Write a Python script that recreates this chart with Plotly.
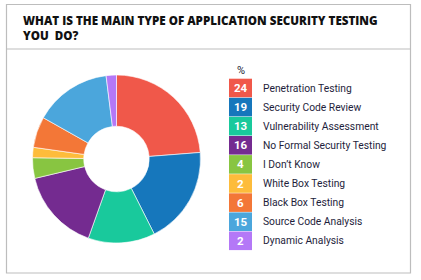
import plotly.graph_objects as go

categories = ["Penetration Testing", "Security Code Review", "Vulnerability Assessment",
              "No Formal Security Testing", "I Don\u2019t Know", "White Box Testing",
              "Black Box Testing", "Source Code Analysis", "Dynamic Analysis"]
values = [24, 19, 13, 16, 4, 2, 6, 15, 2]
colors = ["#F0584A", "#1677BC", "#19C99C", "#742B90", "#88C541", "#FDBC3B",
          "#F37737", "#4BA6DC", "#B478F7"]
title_lines = ["WHAT IS THE MAIN TYPE OF APPLICATION SECURITY TESTING", "YOU  DO?"]

W, H = 421, 280
def px(x): return x / W
def py(y): return 1 - y / H

fig = go.Figure()
cx, cy, r = 116.5, 159, 84
fig.add_trace(go.Pie(
    labels=categories, values=values, sort=False, direction="clockwise", rotation=0,
    hole=0.39, marker=dict(colors=colors, line=dict(color="white", width=0.6)),
    textinfo="none", hoverinfo="label+value", showlegend=False,
    domain=dict(x=[px(cx - r), px(cx + r)], y=[py(cy + r), py(cy - r)]),
))

shapes = [
    dict(type="rect", xref="paper", yref="paper", x0=px(6.5), x1=px(410.5), y0=py(273), y1=py(4.5),
         line=dict(color="#BDBDBD", width=1.2)),
    dict(type="line", xref="paper", yref="paper", x0=px(6.5), x1=px(410.5), y0=py(49), y1=py(49),
         line=dict(color="#BDBDBD", width=1.2)),
]
tfont = dict(family="Open Sans", size=11.6, color="#111111", weight=800)
annotations = [
    dict(text="<br>".join(title_lines), x=px(21), y=py(28), align="left",
         xref="paper", yref="paper", xanchor="left", yanchor="middle", showarrow=False, font=tfont),
    dict(text="%", x=px(240.5), y=py(70), xref="paper", yref="paper", xanchor="center",
         yanchor="middle", showarrow=False, font=dict(family="Roboto", size=11, color="#222233")),
]
y0, step = 88, 19.1
for i, (c, v, col) in enumerate(zip(categories, values, colors)):
    yc = y0 + i * step
    shapes.append(dict(type="rect", xref="paper", yref="paper", x0=px(229), x1=px(252),
                       y0=py(yc + 9.3), y1=py(yc - 9.3), fillcolor=col, line=dict(width=0)))
    annotations.append(dict(text=f"<b>{v}</b>", x=px(240.5), y=py(yc), xref="paper", yref="paper",
                            xanchor="center", yanchor="middle", showarrow=False,
                            font=dict(family="Roboto", size=11.5, color="white")))
    annotations.append(dict(text=c, x=px(261), y=py(yc), xref="paper", yref="paper",
                            xanchor="left", yanchor="middle", showarrow=False,
                            font=dict(family="Roboto", size=10.3, color="#1E1E3C")))

fig.update_layout(width=W, height=H, margin=dict(l=0, r=0, t=0, b=0),
                  paper_bgcolor="white", plot_bgcolor="white",
                  shapes=shapes, annotations=annotations)
fig.write_html("out.html")
